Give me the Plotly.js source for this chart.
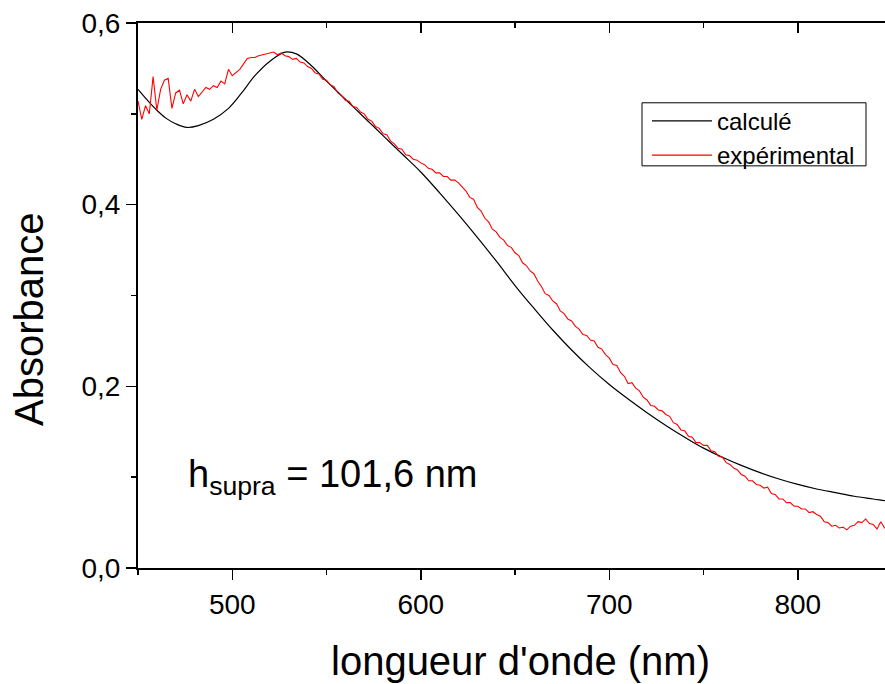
<!DOCTYPE html>
<html>
<head>
<meta charset="utf-8">
<script src="https://cdn.plot.ly/plotly-3.0.1.min.js"></script>
<style>
html,body{margin:0;padding:0;overflow:hidden;background:#fff;}
#chart{width:903px;height:684px;}
</style>
</head>
<body>
<div id="chart"></div>
<script>
// Calculated spectrum (calculé)
const calcWavelength = [450,455,460,465,470,476,482,490,498,505,512,520,528,534,542,550,560,570,580,590,600,610,620,630,640,650,660,670,680,690,700,710,720,730,740,750,760,770,780,790,800,810,820,830,840,850,856];
const calcAbsorbance = [0.527,0.515,0.504,0.495,0.489,0.485,0.487,0.494,0.506,0.523,0.542,0.558,0.568,0.566,0.553,0.536,0.516,0.496,0.476,0.456,0.436,0.413,0.389,0.364,0.338,0.311,0.286,0.262,0.240,0.220,0.202,0.186,0.171,0.157,0.144,0.132,0.122,0.113,0.105,0.098,0.092,0.087,0.083,0.079,0.076,0.073,0.072];

// Experimental spectrum (expérimental)
const expWavelength = [450,452,454,456,458,460,462,464,466,468,470,472,474,476,478,480,482,484,486,488,490,492,494,496,498,500,502,504,506,508,510,512,514,516,518,520,522,524,526,528,530,532,534,536,538,540,542,544,546,548,550,552,554,556,558,560,562,564,566,568,570,572,574,576,578,580,582,584,586,588,590,592,594,596,598,600,602,604,606,608,610,612,614,616,618,620,622,624,626,628,630,632,634,636,638,640,642,644,646,648,650,652,654,656,658,660,662,664,666,668,670,672,674,676,678,680,682,684,686,688,690,692,694,696,698,700,702,704,706,708,710,712,714,716,718,720,722,724,726,728,730,732,734,736,738,740,742,744,746,748,750,752,754,756,758,760,762,764,766,768,770,772,774,776,778,780,782,784,786,788,790,792,794,796,798,800,802,804,806,808,810,812,814,816,818,820,822,824,826,828,830,832,834,836,838,840,842,844,846,848];
const expAbsorbance = [0.514,0.494,0.509,0.500,0.541,0.504,0.527,0.537,0.539,0.506,0.523,0.526,0.511,0.521,0.514,0.527,0.519,0.524,0.529,0.527,0.531,0.529,0.536,0.533,0.549,0.542,0.546,0.549,0.555,0.561,0.562,0.562,0.564,0.565,0.566,0.567,0.568,0.565,0.567,0.564,0.563,0.560,0.561,0.557,0.556,0.552,0.550,0.545,0.544,0.538,0.537,0.532,0.530,0.523,0.520,0.515,0.514,0.508,0.507,0.502,0.500,0.494,0.492,0.486,0.484,0.478,0.477,0.470,0.467,0.462,0.461,0.455,0.454,0.450,0.449,0.446,0.444,0.440,0.439,0.435,0.435,0.431,0.431,0.427,0.427,0.424,0.419,0.415,0.408,0.406,0.397,0.393,0.385,0.381,0.373,0.370,0.364,0.361,0.355,0.353,0.347,0.344,0.336,0.333,0.327,0.324,0.316,0.310,0.302,0.300,0.294,0.291,0.283,0.280,0.274,0.272,0.266,0.263,0.257,0.256,0.251,0.250,0.243,0.241,0.235,0.231,0.224,0.223,0.215,0.211,0.203,0.204,0.198,0.195,0.188,0.185,0.179,0.178,0.174,0.173,0.169,0.167,0.160,0.158,0.152,0.151,0.145,0.144,0.138,0.138,0.135,0.135,0.129,0.128,0.123,0.122,0.116,0.114,0.110,0.108,0.103,0.101,0.096,0.096,0.092,0.091,0.088,0.089,0.082,0.081,0.076,0.076,0.072,0.072,0.068,0.068,0.065,0.065,0.061,0.062,0.059,0.057,0.051,0.050,0.046,0.047,0.044,0.045,0.042,0.046,0.047,0.051,0.050,0.054,0.049,0.048,0.043,0.051,0.044,0.047];

const seriesNames = ['calculé', 'expérimental'];
const xTitle = "longueur d'onde (nm)";
const yTitle = 'Absorbance';
const noteText = 'h<sub>supra</sub> = 101,6 nm';

const FONT = '"Liberation Sans", Arial, Helvetica, sans-serif';
const xRange = [450, 855.8];
const PW = 765;      // plot width in px
const PH = 544.4;    // plot height in px
const px2x = p => (p - 138) / PW;
const py2y = p => (567.7 - p) / PH;

const traces = [
  {x: calcWavelength, y: calcAbsorbance, name: seriesNames[0], type: 'scatter', mode: 'lines',
   line: {color: '#000000', width: 1.2, shape: 'spline'}},
  {x: expWavelength, y: expAbsorbance, name: seriesNames[1], type: 'scatter', mode: 'lines',
   line: {color: '#ff0000', width: 1.1}},
  {x: [null], y: [null], xaxis: 'x2', yaxis: 'y', showlegend: false, hoverinfo: 'skip', mode: 'lines'}
];

const layout = {
  width: 903, height: 684,
  margin: {l: 138, r: 0, t: 23, b: 116},
  paper_bgcolor: '#ffffff', plot_bgcolor: '#ffffff',
  separators: ', ',
  font: {family: FONT, color: '#000000', size: 28},
  showlegend: true,
  legend: {
    x: px2x(647), y: py2y(99), xanchor: 'left', yanchor: 'top',
    bgcolor: 'rgba(0,0,0,0)', borderwidth: 0,
    font: {family: FONT, size: 24, color: '#000000'},
    itemwidth: 60, tracegroupgap: 0
  },
  shapes: [
    {type: 'rect', xref: 'paper', yref: 'paper', x0: px2x(642), x1: px2x(866), y0: py2y(166), y1: py2y(103),
     line: {color: '#000000', width: 1}, fillcolor: '#ffffff', layer: 'above'}
  ],
  xaxis: {
    range: xRange, showgrid: false, zeroline: false,
    showline: true, linecolor: '#000000', linewidth: 2,
    ticks: 'outside', ticklen: 10, tickwidth: 1.5, tickcolor: '#000000',
    tick0: 0, dtick: 100,
    minor: {ticks: 'outside', ticklen: 5, tickwidth: 1.5, tickcolor: '#000000', dtick: 50, tick0: 0},
    tickfont: {family: FONT, size: 28, color: '#000000'},
    title: {text: xTitle, font: {family: FONT, size: 40, color: '#000000'}, standoff: 28}
  },
  xaxis2: {
    range: xRange, overlaying: 'x', anchor: 'y', side: 'top',
    showgrid: false, zeroline: false, showticklabels: false,
    showline: true, linecolor: '#000000', linewidth: 2,
    ticks: 'inside', ticklen: 10, tickwidth: 1.5, tickcolor: '#000000',
    tick0: 0, dtick: 100,
    minor: {ticks: 'inside', ticklen: 5, tickwidth: 1.5, tickcolor: '#000000', dtick: 50, tick0: 0}
  },
  yaxis: {
    range: [0, 0.6], showgrid: false, zeroline: false,
    showline: true, linecolor: '#000000', linewidth: 2,
    ticks: 'outside', ticklen: 10, tickwidth: 1.5, tickcolor: '#000000',
    tick0: 0, dtick: 0.2, tickformat: '.1f',
    minor: {ticks: 'outside', ticklen: 5, tickwidth: 1.5, tickcolor: '#000000', dtick: 0.1, tick0: 0},
    tickfont: {family: FONT, size: 28, color: '#000000'}
  },
  annotations: [
    {text: yTitle, xref: 'paper', yref: 'paper', x: px2x(29), y: py2y(320),
     xanchor: 'center', yanchor: 'middle', textangle: -90, showarrow: false,
     font: {family: FONT, size: 40, color: '#000000'}},
    {text: noteText, xref: 'paper', yref: 'paper', x: px2x(186), y: py2y(477),
     xanchor: 'left', yanchor: 'middle', showarrow: false,
     font: {family: FONT, size: 38, color: '#000000'}}
  ]
};

Plotly.newPlot('chart', traces, layout, {displayModeBar: false, staticPlot: true});
</script>
</body>
</html>
